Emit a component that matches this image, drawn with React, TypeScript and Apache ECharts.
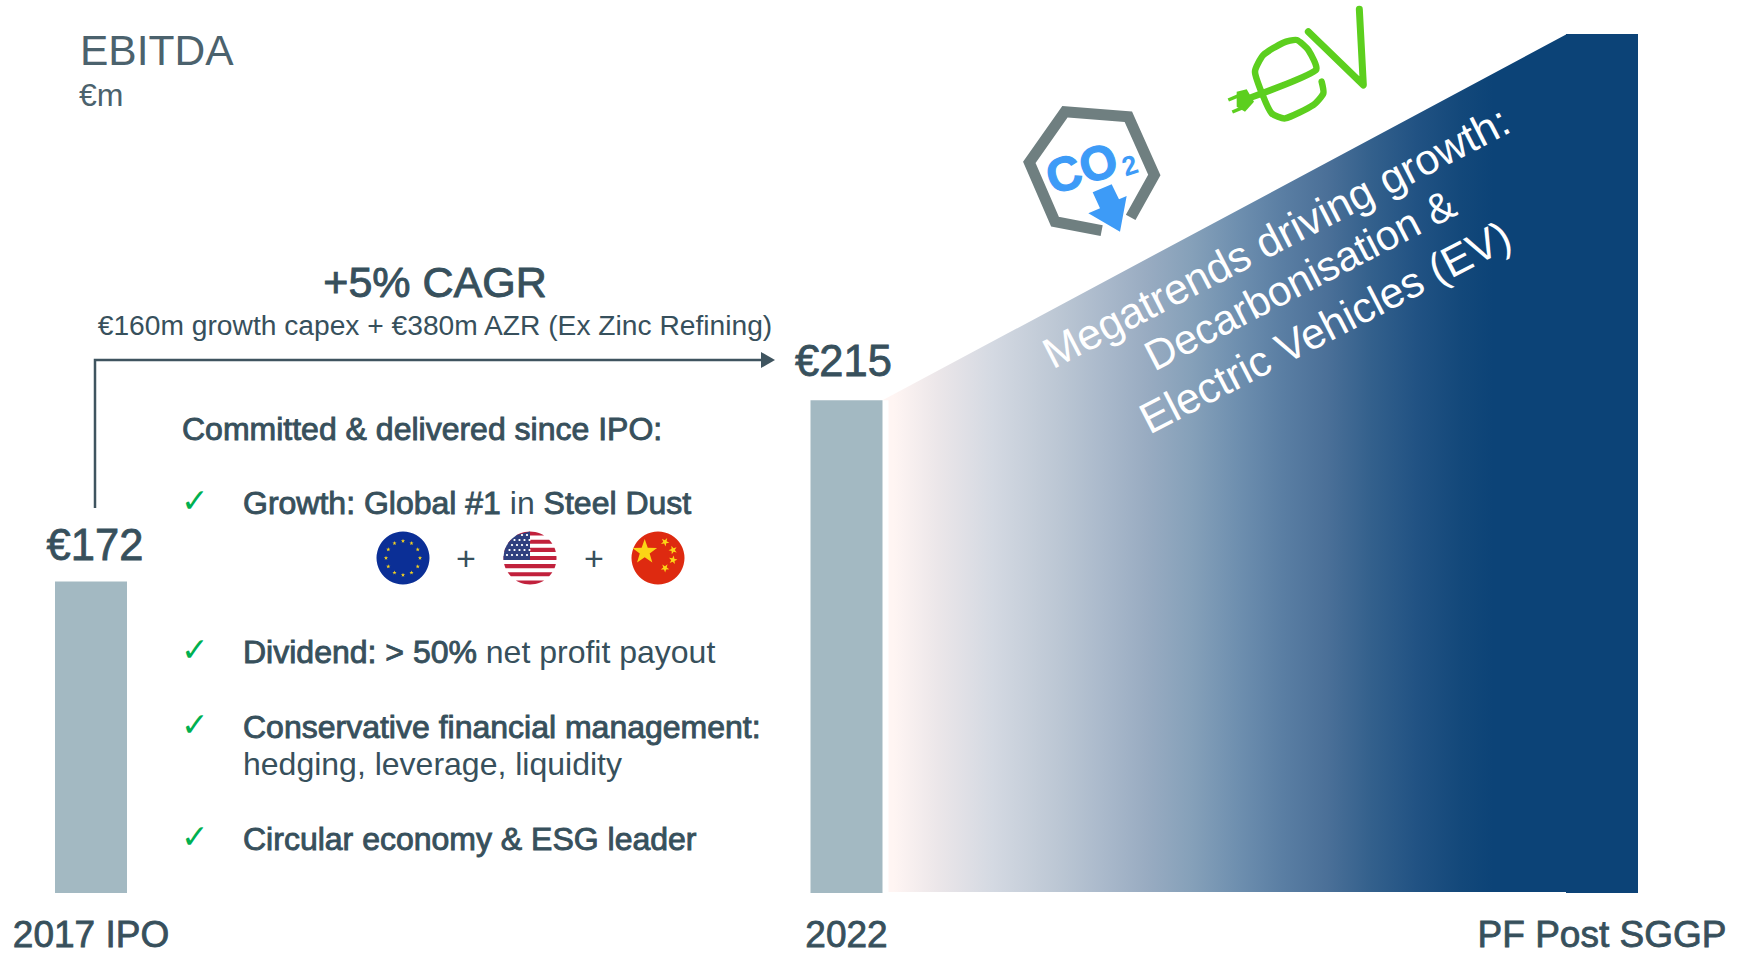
import React, { useEffect, useRef } from "react";
import * as echarts from "echarts";

const categories = ["2017 IPO", "2022", "PF Post SGGP"];
const ebitda = [172, 215, 302];
const valueLabels = ["€172", "€215", ""];
const axisMin = 98;
const axisMax = 302;
const bullets = [
  { y: 503, check: 500, parts: [["b", "Growth: Global #1"], ["n", " in "], ["b", "Steel Dust"]] },
  { y: 652, check: 649, parts: [["b", "Dividend: > 50%"], ["n", " net profit payout"]] },
  { y: 727, check: 724, parts: [["b", "Conservative financial management:"]] },
  { y: 764, check: 0, parts: [["n", "hedging, leverage, liquidity"]] },
  { y: 839, check: 836, parts: [["b", "Circular economy & ESG leader"]] },
];
const wedgeLines = ["Megatrends driving growth:", "Decarbonisation &", "Electric Vehicles (EV)"];

const INK = "#37505c";
const FONT = "'Liberation Sans', Arial, sans-serif";
const Z = 20;

function T(text: string, x: number, y: number, fontSize: number, extra: any = {}) {
  const { faux, rotation, fill, align, fontWeight, fontFamily, ...rest } = extra;
  return {
    type: "text", x, y, z: Z, rotation, ...rest,
    style: {
      text, fontSize, fontFamily: fontFamily || FONT, fontWeight: fontWeight || "normal",
      fill: fill || INK, align: align || "left", verticalAlign: "middle",
      ...(faux ? { stroke: fill || INK, lineWidth: faux } : {}),
    },
  };
}

function star(cx: number, cy: number, r: number, fill: string, rot = 0) {
  const pts: number[][] = [];
  for (let i = 0; i < 10; i++) {
    const rr = i % 2 ? r * 0.4 : r;
    const a = -Math.PI / 2 + rot + (i * Math.PI) / 5;
    pts.push([cx + rr * Math.cos(a), cy + rr * Math.sin(a)]);
  }
  return { type: "polygon", z: Z, shape: { points: pts }, style: { fill } };
}

function band(cx: number, cy: number, r: number, y1: number, y2: number, fill: string, capRight = Infinity) {
  const right: number[][] = [];
  const left: number[][] = [];
  for (let i = 0; i <= 8; i++) {
    const y = y1 + ((y2 - y1) * i) / 8;
    const w = Math.sqrt(Math.max(0, r * r - (y - cy) * (y - cy)));
    right.push([Math.min(cx + w, capRight), y]);
    left.unshift([cx - w, y]);
  }
  return { type: "polygon", z: Z, shape: { points: right.concat(left) }, style: { fill } };
}

function flags() {
  const out: any[] = [];
  const r = 26.5, cy = 558;
  out.push({ type: "circle", z: Z, shape: { cx: 403, cy, r }, style: { fill: "#0b2f96" } });
  for (let i = 0; i < 12; i++) {
    const a = (i * Math.PI) / 6;
    out.push(star(403 + 17 * Math.cos(a), cy + 17 * Math.sin(a), 2.2, "#f5d21f"));
  }
  const us = 530;
  out.push({ type: "circle", z: Z, shape: { cx: us, cy, r }, style: { fill: "#ffffff" } });
  const top = cy - r, sh = (2 * r) / 13;
  for (let i = 0; i < 13; i += 2) out.push(band(us, cy, r, top + i * sh, top + (i + 1) * sh, "#c1213c"));
  out.push(band(us, cy, r, top, top + 7 * sh, "#2f3f7f", us));
  for (let row = 0; row < 5; row++) for (let c = 0; c < 5; c++) {
    const sx = us - 23 + c * 5 + (row % 2) * 2.5, sy = cy - 23 + row * 5;
    if (Math.hypot(sx - us, sy - cy) < r - 2) out.push({ type: "circle", z: Z, shape: { cx: sx, cy: sy, r: 1.1 }, style: { fill: "#ffffff" } });
  }
  const cn = 658;
  out.push({ type: "circle", z: Z, shape: { cx: cn, cy, r }, style: { fill: "#de2a10" } });
  out.push(star(644.7, 552, 13, "#fbd516"));
  out.push(star(665, 542, 4.5, "#fbd516", 0.5));
  out.push(star(673, 550, 4.5, "#fbd516", 0.9));
  out.push(star(673, 560, 4.5, "#fbd516", 0.2));
  out.push(star(665, 568, 4.5, "#fbd516", 0.6));
  out.push(T("+", 466, cy, 34, { align: "center" }));
  out.push(T("+", 594, cy, 34, { align: "center" }));
  return out;
}

const zx = (x: number) => 980 + x / 3;
const zy = (y: number) => y / 3;
const zp = (a: number[][]) => a.map(([x, y]) => [zx(x), zy(y)]);

function logos() {
  const grey = "#6f7f80", blue = "#3d9bf7", green = "#5ccf1e";
  return [
    { type: "polyline", z: Z, shape: { points: zp([[452, 652], [523, 525], [445, 350], [255, 335], [148, 487], [225, 665], [365, 692]]) },
      style: { stroke: grey, lineWidth: 11, fill: "none", lineJoin: "miter" } },
    T("CO", zx(305), zy(505), 48, { align: "center", fontWeight: "bold", fill: blue, rotation: 0.31, faux: 1.2 }),
    T("2", zx(450), zy(497), 27, { align: "center", fontWeight: "bold", fill: blue, rotation: 0.31 }),
    { type: "polygon", z: Z, shape: { points: zp([[338, 577], [395, 553], [417, 598], [440, 588], [420, 695], [325, 640], [360, 625]]) }, style: { fill: blue } },
    { type: "polyline", z: Z, shape: { points: zp([[985, 95], [1150, 255], [1138, 28]]) }, style: { stroke: green, lineWidth: 7, fill: "none", lineCap: "round", lineJoin: "round" } },
    { type: "polyline", z: Z, shape: { smooth: 0.2, points: zp([[800, 297], [1008, 210], [985, 150], [950, 120], [910, 128], [850, 165], [825, 215], [850, 290], [875, 340], [915, 355], [1000, 315], [1030, 280], [1025, 245]]) },
      style: { stroke: green, lineWidth: 6.5, fill: "none", lineCap: "round", lineJoin: "round" } },
    { type: "polygon", z: Z, shape: { points: zp([[770, 275], [800, 268], [822, 305], [795, 335], [770, 320]]) }, style: { fill: green } },
    { type: "polyline", z: Z, shape: { points: zp([[745, 300], [778, 286]]) }, style: { stroke: green, lineWidth: 3.5, fill: "none" } },
    { type: "polyline", z: Z, shape: { points: zp([[757, 336], [790, 322]]) }, style: { stroke: green, lineWidth: 3.5, fill: "none" } },
  ];
}

function texts() {
  const out: any[] = [];
  out.push(T("EBITDA", 80, 50, 42.5, { fill: "#4b626d" }));
  out.push(T("€m", 79, 95, 32, { fill: "#4b626d" }));
  out.push(T("+5% CAGR", 435, 282, 43, { align: "center", faux: 0.9 }));
  out.push(T("€160m growth capex + €380m AZR (Ex Zinc Refining)", 435, 325, 28.2, { align: "center" }));
  out.push(T("Committed & delivered since IPO:", 182, 429, 32, { faux: 0.9 }));
  bullets.forEach((b) => {
    if (b.check) out.push(T("✓", 181, b.check, 33, { fill: "#00b050", fontFamily: "'DejaVu Sans'" }));
    out.push({
      type: "text", x: 243, y: b.y, z: Z,
      style: {
        text: b.parts.map(([k, s]) => `{${k}|${s}}`).join(""),
        verticalAlign: "middle",
        rich: {
          b: { fontSize: 32, fontFamily: FONT, fill: INK, stroke: INK, lineWidth: 0.9 },
          n: { fontSize: 32, fontFamily: FONT, fill: INK },
        },
      },
    });
  });
  const centers = [[1276, 237], [1300, 280], [1325, 327]];
  const sizes = [43, 42, 43];
  wedgeLines.forEach((s, i) => {
    const [x, y] = centers[i];
    out.push(T(s, x, y, sizes[i], { align: "center", fill: "#ffffff", rotation: 0.478 }));
  });
  out.push({ type: "polyline", z: Z, shape: { points: [[95, 508], [95, 360], [764, 360]] }, style: { stroke: "#3f545f", lineWidth: 2.5, fill: "none", lineJoin: "miter" } });
  out.push({ type: "polygon", z: Z, shape: { points: [[761, 352], [775, 360], [761, 368]] }, style: { fill: "#3f545f" } });
  return out;
}

export default function App() {
  const ref = useRef<HTMLDivElement>(null);
  useEffect(() => {
    document.body.style.margin = "0";
    const chart = echarts.init(ref.current!, undefined, { renderer: "svg" });
    const labelOffsets = [[4, -2], [-3, -5], [0, 0]];
    chart.setOption({
      animation: false,
      backgroundColor: "#ffffff",
      grid: { left: -286.75, width: 2266.5, top: 34, bottom: 61, outerBoundsMode: "none" },
      xAxis: {
        type: "category", data: categories,
        axisLine: { show: false }, axisTick: { show: false },
        axisLabel: {
          show: true, interval: 0, margin: 22.5, fontSize: 37, fontFamily: FONT, color: INK,
          textBorderColor: INK, textBorderWidth: 0.8,
        },
      },
      yAxis: { type: "value", min: axisMin, max: axisMax, show: false, splitLine: { show: false } },
      series: [
        {
          type: "custom", z: 1, silent: true, clip: false,
          data: [[1, ebitda[1], ebitda[2]]],
          renderItem: (_p: any, api: any) => {
            const half = 36;
            const a = api.coord([api.value(0), api.value(1)]);
            const b = api.coord([api.value(0) + 1, api.value(2)]);
            const base = api.coord([api.value(0), axisMin])[1] - 1;
            const x0 = a[0] + half + 6, x1 = b[0] - half + 1;
            const tip = x0 - 6;
            return {
              type: "polygon",
              shape: { points: [[tip, a[1]], [x1, b[1]], [x1, base], [x0, base], [x0, a[1]]] },
              style: {
                fill: new echarts.graphic.LinearGradient((x0 - tip) / (x1 - tip), 0, 1, 0, [
                  { offset: 0.007, color: "#fff5f3" },
                  { offset: 0.074, color: "#ebe6e9" },
                  { offset: 0.153, color: "#d4d9e2" },
                  { offset: 0.25, color: "#bcc7d4" },
                  { offset: 0.317, color: "#aab9cb" },
                  { offset: 0.383, color: "#98abc1" },
                  { offset: 0.448, color: "#85a0b9" },
                  { offset: 0.515, color: "#6e8faf" },
                  { offset: 0.581, color: "#5a7ea3" },
                  { offset: 0.646, color: "#4b7098" },
                  { offset: 0.712, color: "#33608c" },
                  { offset: 0.779, color: "#215283" },
                  { offset: 0.844, color: "#13487a" },
                  { offset: 0.891, color: "#0c4377" },
                  { offset: 1, color: "#0c4377" },
                ]),
              },
            };
          },
        },
        {
          type: "bar", barWidth: 72, z: 2,
          data: ebitda.map((v, i) => ({
            value: v,
            itemStyle: { color: i === 2 ? "#0c4377" : "#a3b9c2" },
            label: {
              show: !!valueLabels[i], position: "top", distance: 12, formatter: valueLabels[i],
              fontSize: 43.5, fontFamily: FONT, color: INK, textBorderColor: INK, textBorderWidth: 0.8,
              offset: labelOffsets[i],
            },
          })),
        },
      ],
      graphic: { elements: [...logos(), ...flags(), ...texts()] },
    });
    return () => chart.dispose();
  }, []);
  return <div ref={ref} style={{ width: 1743, height: 954 }} />;
}
